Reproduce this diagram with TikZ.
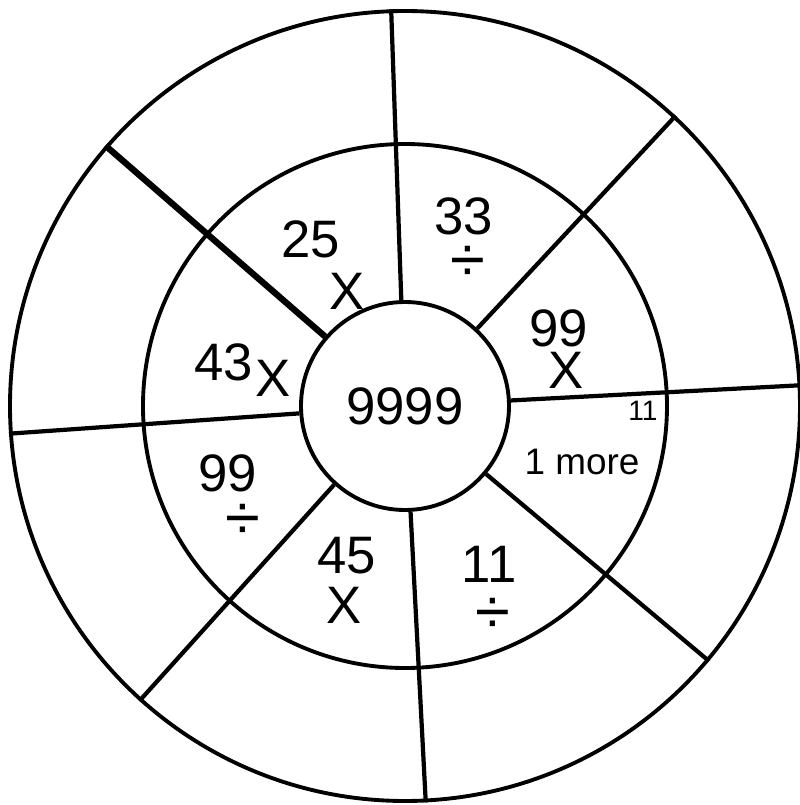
\documentclass[tikz,border=0pt]{standalone}
\usepackage{fontspec}
\setmainfont{Liberation Sans}
\begin{document}
\begin{tikzpicture}[
  ring/.style={circle, draw, line width=1.1pt, inner sep=0pt},
  spoke/.style={line width=1.2pt},
  heavy/.style={line width=1.8pt},
  lbl/.style={font=\fontsize{15}{18}\selectfont, inner sep=0pt},
  divs/.style={font=\fontsize{18}{20}\selectfont, inner sep=0pt},
  small/.style={font=\fontsize{10.5}{12}\selectfont, inner sep=1pt},
  tiny/.style={font=\fontsize{8}{9}\selectfont, inner sep=0pt},
]

% Page frame
\useasboundingbox (-4.05,-3.99) rectangle (3.95,4.06);

% Rings
\node[ring, minimum size=7.9cm] (rim) at (0,0) {};
\node[ring, minimum size=5.24cm] (mid) at (0,0) {};
\node[ring, lbl, minimum size=2.08cm] (hub) at (0,0) {9999};

% Spokes
\foreach \a in {92,47,3,320,273,228,184}
  \draw[spoke] (hub.\a) -- (rim.\a);
\draw[heavy] (hub.139) -- (rim.139);

% Sector 1: 25 x
\node[lbl] (n25) at (-0.94,1.67) {25};
\node[lbl] (x25) at (-0.58,1.15) {X};

% Sector 2: 33 /
\node[lbl] (n33) at (0.59,1.90) {33};
\node[divs] (d33) at (0.63,1.42) {÷};

% Sector 3: 99 x
\node[lbl] (n99) at (1.54,0.78) {99};
\node[lbl] (x99) at (1.61,0.36) {X};
\node[tiny] (n11s) at (2.38,-0.05) {11};

% Sector 4: 1 more
\node[small] (more) at (1.77,-0.56) {1 more};

% Sector 5: 11 /
\node[lbl] (n11) at (0.84,-1.58) {11};
\node[divs] (d11) at (0.88,-2.10) {÷};

% Sector 6: 45 x
\node[lbl] (n45) at (-0.58,-1.50) {45};
\node[lbl] (x45) at (-0.61,-1.99) {X};

% Sector 7: 99 /
\node[lbl] (n99b) at (-1.77,-0.67) {99};
\node[divs] (d99) at (-1.62,-1.16) {÷};

% Sector 8: 43 x
\node[lbl] (n43) at (-1.81,0.44) {43};
\node[lbl] (x43) at (-1.32,0.28) {X};

\end{tikzpicture}
\end{document}
